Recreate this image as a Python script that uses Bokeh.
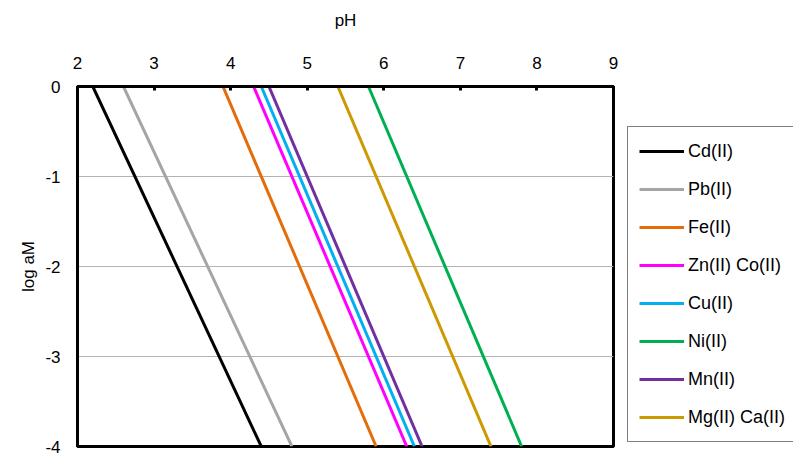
from bokeh.plotting import figure
from bokeh.models import Range1d, Legend, LegendItem, FixedTicker, CustomJSTickFormatter
from bokeh.embed import file_html
from bokeh.resources import INLINE

# data: each line from (pH at log aM = 0) to (pH at log aM = -4)
names = ["Cd(II)", "Pb(II)", "Fe(II)", "Zn(II) Co(II)", "Cu(II)", "Ni(II)", "Mn(II)", "Mg(II) Ca(II)"]
ph_top = [2.2, 2.6, 3.9, 4.3, 4.4, 5.8, 4.5, 5.4]
ph_bottom = [4.4, 4.8, 5.9, 6.3, 6.4, 7.8, 6.5, 7.4]
loga_top = 0
loga_bottom = -4
colors = ["#000000", "#a5a5a5", "#e46c0a", "#ff00ff", "#00b0f0", "#00b050", "#7030a0", "#cc9900"]
x_ticks = [2, 3, 4, 5, 6, 7, 8, 9]
y_ticks = [0, -1, -2, -3, -4]

FONT = "Liberation Sans"
FS = "17px"

p = figure(frame_width=536, frame_height=360, output_backend="svg", toolbar_location=None,
           x_range=Range1d(2, 9), y_range=Range1d(-4, 0), x_axis_location="above",
           min_border_left=77, min_border_right=0, min_border_top=86, min_border_bottom=10)

p.outline_line_color = "black"
p.outline_line_width = 3
p.background_fill_color = "white"
p.border_fill_color = "white"

items = []
for n, a, b, c in zip(names, ph_top, ph_bottom, colors):
    r = p.line([a, b], [loga_top, loga_bottom], line_color=c, line_width=3)
    items.append(LegendItem(label=n, renderers=[r]))

p.xgrid.visible = False
p.ygrid.ticker = FixedTicker(ticks=[-1, -2, -3])
p.ygrid.grid_line_color = "#b3b3b3"
p.ygrid.grid_line_width = 1

fmt = CustomJSTickFormatter(code="return String(tick);")

xa = p.xaxis[0]
xa.ticker = FixedTicker(ticks=x_ticks)
xa.formatter = fmt
xa.axis_label = "pH"
xa.axis_label_text_font = FONT
xa.axis_label_text_font_size = FS
xa.axis_label_text_font_style = "normal"
xa.axis_label_text_color = "black"
xa.axis_label_standoff = 24
xa.major_label_text_font = FONT
xa.major_label_text_font_size = FS
xa.major_label_text_color = "black"
xa.major_label_standoff = 18
xa.major_tick_in = 4
xa.major_tick_out = 0
xa.major_tick_line_width = 3
xa.minor_tick_line_color = None
xa.axis_line_color = "black"
xa.axis_line_width = 3

ya = p.yaxis[0]
ya.ticker = FixedTicker(ticks=y_ticks)
ya.formatter = fmt
ya.axis_label = "log aM"
ya.axis_label_text_font = FONT
ya.axis_label_text_font_size = FS
ya.axis_label_text_font_style = "normal"
ya.axis_label_text_color = "black"
ya.axis_label_text_align = "right"
ya.axis_label_standoff = 4
ya.major_label_text_font = FONT
ya.major_label_text_font_size = FS
ya.major_label_text_color = "black"
ya.major_label_standoff = 17
ya.major_tick_in = 0
ya.major_tick_out = 0
ya.minor_tick_line_color = None
ya.axis_line_color = "black"
ya.axis_line_width = 3

legend = Legend(items=items, location=(14, 4))
legend.label_text_font = FONT
legend.label_text_font_size = "18px"
legend.label_text_color = "black"
legend.glyph_width = 45
legend.glyph_height = 26
legend.label_height = 26
legend.spacing = 12
legend.padding = 11
legend.label_standoff = 4
legend.margin = 0
legend.border_line_color = "black"
legend.border_line_width = 1.5
legend.background_fill_color = "white"
legend.background_fill_alpha = 1
p.add_layout(legend, "right")

open("out.html", "w").write(file_html(p, INLINE))
